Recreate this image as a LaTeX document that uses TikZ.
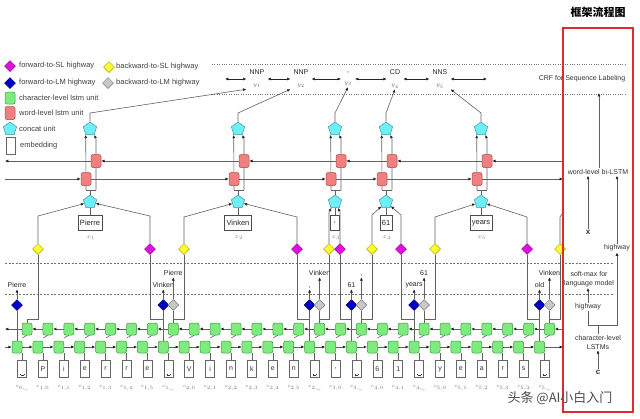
\documentclass[tikz,border=0pt]{standalone}
\usepackage{fontspec}
\setmainfont{Liberation Sans}
\newfontfamily\cjk{Noto Sans CJK SC}
\usetikzlibrary{shapes.geometric,arrows.meta,backgrounds}
\definecolor{lgreen}{HTML}{7EEB7E}
\definecolor{dgreen}{HTML}{3C9A3C}
\definecolor{lred}{HTML}{F08080}
\definecolor{dred}{HTML}{B04848}
\definecolor{lcyan}{HTML}{6FEFF5}
\definecolor{dcyan}{HTML}{3A9AAA}
\definecolor{mag}{HTML}{E010E0}
\definecolor{dmag}{HTML}{8A0A8A}
\definecolor{blu}{HTML}{0000C8}
\definecolor{dblu}{HTML}{000070}
\definecolor{yel}{HTML}{FFFF30}
\definecolor{dyel}{HTML}{A89A00}
\definecolor{gry}{HTML}{C8C8C8}
\definecolor{dgry}{HTML}{7A7A7A}
\definecolor{frame}{HTML}{E02A30}
\newcommand\vsp{\raisebox{-6pt}[0pt][0pt]{\rule{0.3pt}{1.2pt}\rule{3pt}{0.3pt}\rule{0.3pt}{1.2pt}}}
\begin{document}
\begin{tikzpicture}[x=1pt,y=-1pt,
  font=\fontsize{7}{8}\selectfont,
  gsq/.style={draw=dgreen,fill=lgreen,rounded corners=2pt,minimum width=10pt,minimum height=12pt,inner sep=0pt,line width=0.5pt},
  rsq/.style={draw=dred,fill=lred,rounded corners=2pt,minimum width=10pt,minimum height=13pt,inner sep=0pt,line width=0.5pt},
  pent/.style={regular polygon,regular polygon sides=5,draw=dcyan,fill=lcyan,minimum size=14pt,inner sep=0pt,line width=0.5pt},
  dia/.style={diamond,minimum size=11pt,inner sep=0pt,line width=0.5pt},
  magd/.style={dia,draw=dmag,fill=mag},
  blud/.style={dia,draw=dblu,fill=blu},
  yeld/.style={dia,draw=dyel,fill=yel},
  gryd/.style={dia,draw=dgry,fill=gry},
  emb/.style={draw=black!60,fill=white,minimum width=9pt,minimum height=17pt,inner sep=0pt,line width=0.5pt,text=black!80},
  wbox/.style={draw=black!70,fill=white,minimum height=15pt,minimum width=9pt,inner sep=2pt,font=\fontsize{7.5}{8}\selectfont,text=black!85},
  conn/.style={draw=black!62,line width=0.6pt},
  arr/.style={conn,-{Latex[length=3.3pt,width=3pt,color=black!85]}},
  darr/.style={draw=black!85,line width=0.6pt,{Latex[length=3.3pt,width=3pt]}-{Latex[length=3.3pt,width=3pt]}},
  lgt/.style={anchor=west,inner sep=0pt,text=black!75,font=\fontsize{7.5}{8}\selectfont},
  lab/.style={inner sep=1pt,text=black!85,font=\fontsize{7}{8}\selectfont},
  tyn/.style={align=center,inner xsep=3pt,inner ysep=1pt,font=\fontsize{7}{12}\selectfont,text=black!85},
  xl/.style={text=black!50,font=\fontsize{6}{7}\selectfont},
  cl/.style={text=black!55,font=\fontsize{5.5}{6}\selectfont},
  pan/.style={text=black!80,font=\fontsize{7}{9}\selectfont,align=center,inner sep=1pt}
]
\useasboundingbox (0,0) rectangle (640,418);
\begin{scope}[on background layer]
\fill[white] (0,0) rectangle (640,418);
\draw[black!55,dotted] (212,64) -- (627,64);
\draw[black!55,dotted] (212,94) -- (627,94);
\draw[black!55,dash pattern=on 2pt off 1.5pt] (5,263) -- (614,263);
\draw[black!55,dash pattern=on 2pt off 1.5pt] (5,294) -- (614,294);
\end{scope}

% title
\node[font={\cjk\fontsize{11}{12}\selectfont\bfseries}] (title) at (598,12) {框架流程图};

% legend
\node[magd] (lm) at (10,66) {};  \node[lgt] (lmt) at (19,66) {forward-to-SL highway};
\node[yeld] (ly) at (109,67) {}; \node[lgt] (lyt) at (116,67) {backward-to-SL highway};
\node[blud] (lb) at (10,83) {};  \node[lgt] (lbt) at (19,83) {forward-to-LM highway};
\node[gryd] (lg) at (108,83) {}; \node[lgt] (lgt1) at (116,83) {backward-to-LM highway};
\node[gsq] (lgs) at (10,98) {};  \node[lgt] (lgst) at (19,98) {character-level lstm unit};
\node[rsq] (lrs) at (10,113) {}; \node[lgt] (lrst) at (19,113) {word-level lstm unit};
\node[pent] (lp) at (10,129) {}; \node[lgt] (lpt) at (19,129) {concat unit};
\node[emb] (le) at (11,146) {};  \node[lgt] (let) at (20,146) {embedding};

% CRF tags
\foreach \tn/\tx/\tg in {1/257/NNP, 2/301/NNP, 3/348/{,}, 4/395/CD, 5/440/NNS}
  \node[tyn] (ty\tn) at (\tx,79) {\tg\\{\color{black!55}\fontsize{6}{12}\selectfont$y_{\tn}$}};
\coordinate (crfL) at (225,79);
\coordinate (crfR) at (487,79);
\draw[darr] (crfL) -- (ty1);
\draw[darr] (ty1) -- (ty2);
\draw[darr] (ty2) -- (ty3);
\draw[darr] (ty3) -- (ty4);
\draw[darr] (ty4) -- (ty5);
\draw[darr] (ty5) -- (crfR);

% character level
\foreach \i/\chr/\csub in {0/\vsp/{0,\_}, 1/P/{1,0}, 2/i/{1,1}, 3/e/{1,2}, 4/r/{1,3}, 5/r/{1,4}, 6/e/{1,5}, 7/\vsp/{1,\_}, 8/V/{2,0}, 9/i/{2,1}, 10/n/{2,2}, 11/k/{2,3}, 12/e/{2,4}, 13/n/{2,5}, 14/\vsp/{2,\_}, 15/{,}/{3,0}, 16/\vsp/{3,\_}, 17/6/{4,0}, 18/1/{4,1}, 19/\vsp/{4,\_}, 20/y/{5,0}, 21/e/{5,1}, 22/a/{5,2}, 23/r/{5,3}, 24/s/{5,4}, 25/\vsp/{5,\_}} {
  \node[gsq] (lo\i) at ({17+20.9*\i},347) {};
  \node[gsq] (up\i) at ({27+20.9*\i},329) {};
  \node[emb] (ch\i) at ({22+20.9*\i},369) {\chr};
  \node[cl] (cl\i) at ({22+20.9*\i},388) {$c_{\csub}$};
}
\begin{scope}[on background layer]
\foreach \i in {0,...,25} {
  \draw[conn] (ch\i.north) -- (ch\i.north |- lo\i.south);
  \draw[conn] (lo\i.east |- 0,338) -- (up\i.south);
}
\end{scope}
\foreach \i [count=\j from 1] in {0,...,24} {
  \draw[arr] (lo\i.east) -- (lo\j.west);
  \draw[arr] (up\j.west) -- (up\i.east);
}
\coordinate (loL) at (5,347); \coordinate (loR) at (563,347);
\coordinate (upL) at (5,329); \coordinate (upR) at (563,329);
\draw[arr] (loL) -- (lo0.west);
\draw[arr] (lo25.east) -- (loR);
\draw[arr] (upR) -- (up25.east);
\draw[arr] (up0.west) -- (upL);

% LM highways
\foreach \k/\lbl in {0/Pierre, 7/Vinken, 14/{,}, 16/61, 19/years, 25/old} {
  \node[blud] (bd\k) at (lo\k |- 0,305) {};
  \draw[conn] (lo\k.north) -- (bd\k.south);
  \draw[arr] (bd\k.north) -- ++(0,-10) coordinate (bt\k);
  \node[lab,anchor=south] (bl\k) at (bt\k) {\lbl};
}
\foreach \k/\lbl in {7/Pierre, 14/Vinken, 16/{,}, 19/61, 25/Vinken} {
  \node[gryd] (gd\k) at (up\k |- 0,305) {};
  \draw[conn] (up\k.north) -- (gd\k.south);
  \draw[arr] (gd\k.north) -- ++(0,-22) coordinate (gt\k);
  \node[lab,anchor=south] (gl\k) at (gt\k) {\lbl};
}
\draw[conn] (up0.north) -- (up0 |- 0,319);

% word columns
\foreach \w/\cx/\wtxt in {1/90/Pierre, 2/238/Vinken, 3/335/{,}, 4/386/61, 5/481/years} {
  \node[pent] (pt\w) at (\cx,129) {};
  \node[rsq] (rb\w) at (\cx+6,161) {};
  \node[rsq] (rf\w) at (\cx-4,179) {};
  \node[pent] (pb\w) at (\cx,202) {};
  \node[wbox] (wb\w) at (\cx,223) {\wtxt};
  \node[xl] (xl\w) at (\cx+1,238) {$x_{\w}$};
  \coordinate (jn\w) at (\cx,190);
  \draw[conn] (pb\w.south) -- (wb\w.north);
}
\begin{scope}[on background layer]
\foreach \w in {1,...,5} {
  \draw[conn] (pb\w.north) -- (jn\w);
  \draw[conn] (rf\w |- jn\w) -- (rb\w |- jn\w);
  \draw[arr] (rf\w |- jn\w) -- (pt\w.corner 3);
  \draw[arr] (rb\w |- jn\w) -- (rb\w |- 0,139) -- (pt\w.corner 4);
}
\end{scope}
\coordinate (wuL) at (5,161); \coordinate (wuR) at (563,161);
\coordinate (wlL) at (5,179); \coordinate (wlR) at (563,179);
\draw[arr] (wuR) -- (rb5.east);
\foreach \ua/\ub in {5/4,4/3,3/2,2/1} \draw[arr] (rb\ua.west) -- (rb\ub.east);
\draw[arr] (rb1.west) -- (wuL);
\draw[arr] (wlL) -- (rf1.west);
\foreach \ua/\ub in {1/2,2/3,3/4,4/5} \draw[arr] (rf\ua.east) -- (rf\ub.west);
\draw[arr] (rf5.east) -- (wlR);

\foreach \w/\anc in {1/south west,2/south west,3/south,4/south,5/south east}
  \draw[arr] (pt\w.north) -- (pt\w.north |- 0,113) -- (ty\w.\anc);

% SL highways
\foreach \w/\yx/\yk/\mx/\mk/\yb in {1/38/0/150/7/216, 2/184/7/297/14/217, 3/329/14/340/16/212, 4/372/16/401/19/215, 5/435/19/527/25/217} {
  \node[yeld] (yw\w) at (\yx,249) {};
  \node[magd] (mw\w) at (\mx,249) {};
  \draw[arr] (yw\w.north) -- (yw\w.north |- 0,\yb) -- (pb\w);
  \draw[arr] (mw\w.north) -- (mw\w.north |- 0,\yb) -- (pb\w);
  \draw[conn] (yw\w.south) |- (up\yk |- 0,319);
  \draw[conn] (mw\w.south) |- (lo\mk |- 0,319);
}
\node[yeld] (yw6) at (560,249) {};
\draw[conn] (yw6.north) -- (560,217) -- (564,211);
\draw[conn] (yw6.south) |- (up25 |- 0,319);

% right panel
\node[pan] (crf) at (582,79) {CRF for Sequence Labeling};
\node[pan] (wbl) at (598,172) {word-level bi-LSTM};
\node[pan,font=\fontsize{8}{9}\selectfont] (xv) at (588,232) {$\mathbf{x}$};
\node[pan] (hw1) at (617,248) {highway};
\node[pan] (sm) at (589,279) {soft-max for\\language model};
\node[pan] (hw2) at (588,307) {highway};
\node[pan] (clt) at (598,342) {character-level\\LSTMs};
\node[pan,font=\fontsize{8}{9}\selectfont] (cv) at (598,372) {$\mathbf{c}$};
\coordinate (crfb) at (599,93);
\draw[arr] (wbl.north -| crfb) -- (crfb);
\draw[arr] (xv.north) -- (xv.north |- wbl.south);
\draw[arr] (hw1.north) -- (hw1.north |- wbl.south);
\draw[arr] (hw2.north) -- (hw2.north |- sm.south);
\draw[conn] (clt.north) -- ++(0,-8) coordinate (clj);
\draw[conn] (hw2.south |- clj) -- (hw1.south |- clj);
\draw[conn] (hw2.south |- clj) -- (hw2.south);
\draw[arr] (hw1.south |- clj) -- (hw1.south);
\draw[arr] (cv.north) -- (clt.south);

\node[draw=frame,line width=1.2pt,minimum width=70pt,minimum height=384pt,inner sep=0pt] (panel) at (598,220) {};

% watermark
\node[font={\cjk\fontsize{13}{14}\selectfont},text=black!70] (wm) at (560,398) {头条 @AI小白入门};
\end{tikzpicture}
\end{document}
